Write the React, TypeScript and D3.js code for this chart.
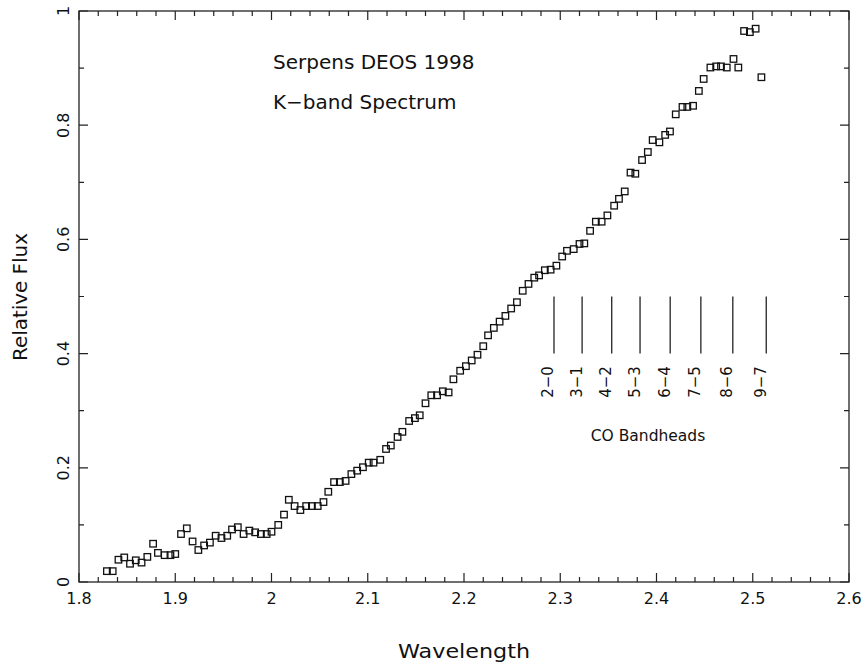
import React from 'react';
import * as d3 from 'd3';

// K-band spectrum samples (wavelength in microns, relative flux)
const wavelength = [
  1.829, 1.835, 1.841, 1.847, 1.853, 1.859, 1.865, 1.871, 1.877, 1.882,
  1.889, 1.895, 1.900, 1.906, 1.912, 1.918, 1.924, 1.930, 1.936, 1.942,
  1.948, 1.954, 1.959, 1.965, 1.971, 1.977, 1.983, 1.989, 1.995, 2.000,
  2.007, 2.013, 2.018, 2.024, 2.030, 2.036, 2.042, 2.048, 2.054, 2.059,
  2.065, 2.071, 2.077, 2.083, 2.089, 2.095, 2.101, 2.106, 2.113, 2.119,
  2.124, 2.131, 2.136, 2.143, 2.149, 2.154, 2.160, 2.166, 2.172, 2.178,
  2.184, 2.189, 2.196, 2.202, 2.208, 2.214, 2.220, 2.225, 2.231, 2.237,
  2.243, 2.249, 2.255, 2.261, 2.267, 2.273, 2.278, 2.284, 2.290, 2.296,
  2.302, 2.307, 2.314, 2.320, 2.325, 2.331, 2.337, 2.343, 2.349, 2.356,
  2.361, 2.367, 2.373, 2.378, 2.385, 2.391, 2.396, 2.403, 2.409, 2.414,
  2.420, 2.427, 2.432, 2.438, 2.444, 2.449, 2.456, 2.462, 2.467, 2.473,
  2.480, 2.485, 2.491, 2.497, 2.503, 2.509,
];

const flux = [
  0.019, 0.019, 0.039, 0.043, 0.032, 0.038, 0.034, 0.044, 0.067, 0.051,
  0.047, 0.047, 0.049, 0.084, 0.094, 0.071, 0.056, 0.064, 0.069, 0.081,
  0.077, 0.081, 0.092, 0.096, 0.084, 0.090, 0.087, 0.084, 0.084, 0.088,
  0.100, 0.118, 0.144, 0.133, 0.126, 0.133, 0.133, 0.133, 0.140, 0.158,
  0.175, 0.175, 0.177, 0.189, 0.195, 0.201, 0.209, 0.209, 0.214, 0.233,
  0.239, 0.254, 0.263, 0.282, 0.287, 0.292, 0.313, 0.327, 0.327, 0.334,
  0.332, 0.355, 0.370, 0.378, 0.388, 0.398, 0.413, 0.432, 0.445, 0.456,
  0.466, 0.479, 0.490, 0.510, 0.522, 0.533, 0.537, 0.546, 0.547, 0.554,
  0.570, 0.580, 0.583, 0.592, 0.593, 0.615, 0.631, 0.631, 0.642, 0.659,
  0.671, 0.684, 0.717, 0.715, 0.739, 0.753, 0.774, 0.770, 0.783, 0.789,
  0.819, 0.832, 0.832, 0.834, 0.860, 0.881, 0.901, 0.903, 0.903, 0.901,
  0.916, 0.901, 0.965, 0.963, 0.969, 0.884,
];

// CO first-overtone bandhead positions (microns) and their transitions
const bandheadWl = [2.2935, 2.3227, 2.3535, 2.3829, 2.4142, 2.4461, 2.4793, 2.5140];
const bandheadLabels = ['2−0', '3−1', '4−2', '5−3', '6−4', '7−5', '8−6', '9−7'];
const bandheadRange = [0.4, 0.5];

const xMajorTicks = [1.8, 1.9, 2.0, 2.1, 2.2, 2.3, 2.4, 2.5, 2.6];
const xTickLabels = ['1.8', '1.9', '2', '2.1', '2.2', '2.3', '2.4', '2.5', '2.6'];
const yMajorTicks = [0, 0.2, 0.4, 0.6, 0.8, 1];
const yTickLabels = ['0', '0.2', '0.4', '0.6', '0.8', '1'];

const titleLines = ['Serpens DEOS 1998', 'K−band Spectrum'];

const W = 863;
const H = 665;
const frame = { left: 79, right: 849, top: 11, bottom: 582 };
const FONT = "'DejaVu Sans', sans-serif";
const INK = '#111';

export default function App() {
  const x = d3.scaleLinear().domain([1.8, 2.6]).range([frame.left, frame.right]);
  const y = d3.scaleLinear().domain([0, 1]).range([frame.bottom, frame.top]);

  const xMinor = d3.range(0, 41).map((i) => 1.8 + i * 0.02).filter((v) => !xMajorTicks.some((m) => Math.abs(m - v) < 1e-6));
  const yMinor = d3.range(0, 11).map((i) => i * 0.1).filter((v) => !yMajorTicks.some((m) => Math.abs(m - v) < 1e-6));

  const majorLen = 9;
  const minorLen = 5;
  const sq = 6.5;

  const tickPath: string[] = [];
  xMajorTicks.forEach((v) => {
    const px = x(v);
    tickPath.push(`M${px},${frame.bottom}V${frame.bottom - majorLen}`);
    tickPath.push(`M${px},${frame.top}V${frame.top + majorLen}`);
  });
  xMinor.forEach((v) => {
    const px = x(v);
    tickPath.push(`M${px},${frame.bottom}V${frame.bottom - minorLen}`);
    tickPath.push(`M${px},${frame.top}V${frame.top + minorLen}`);
  });
  yMajorTicks.forEach((v) => {
    const py = y(v);
    tickPath.push(`M${frame.left},${py}H${frame.left + majorLen}`);
    tickPath.push(`M${frame.right},${py}H${frame.right - majorLen}`);
  });
  yMinor.forEach((v) => {
    const py = y(v);
    tickPath.push(`M${frame.left},${py}H${frame.left + minorLen}`);
    tickPath.push(`M${frame.right},${py}H${frame.right - minorLen}`);
  });

  return (
    <svg
      width={W}
      height={H}
      viewBox={`0 0 ${W} ${H}`}
      style={{ position: 'absolute', left: 0, top: 0, display: 'block', background: '#fff' }}
      fontFamily={FONT}
    >
      <rect x={0} y={0} width={W} height={H} fill="#fff" />

      {/* plot frame and ticks */}
      <rect
        x={frame.left}
        y={frame.top}
        width={frame.right - frame.left}
        height={frame.bottom - frame.top}
        fill="none"
        stroke="#222"
        strokeWidth={1.3}
      />
      <path d={tickPath.join('')} stroke="#222" strokeWidth={1.2} fill="none" />

      {/* x tick labels */}
      {xMajorTicks.map((v, i) => (
        <text key={`xt${i}`} x={x(v)} y={604} textAnchor="middle" fontSize={16} fill={INK}>
          {xTickLabels[i]}
        </text>
      ))}

      {/* y tick labels, rotated */}
      {yMajorTicks.map((v, i) => (
        <text
          key={`yt${i}`}
          transform={`translate(69,${y(v)}) rotate(-90)`}
          textAnchor="middle"
          fontSize={16}
          fill={INK}
        >
          {yTickLabels[i]}
        </text>
      ))}

      {/* axis titles */}
      <text x={464} y={658} textAnchor="middle" fontSize={19} fill={INK} textLength={132} lengthAdjust="spacingAndGlyphs">
        Wavelength
      </text>
      <text
        transform={`translate(27,297) rotate(-90)`}
        textAnchor="middle"
        fontSize={19}
        fill={INK}
        textLength={128}
        lengthAdjust="spacingAndGlyphs"
      >
        Relative Flux
      </text>

      {/* figure title */}
      {titleLines.map((t, i) => (
        <text key={`tl${i}`} x={273} y={69 + i * 40} fontSize={20} fill={INK}>
          {t}
        </text>
      ))}

      {/* CO bandhead markers */}
      {bandheadWl.map((w, i) => (
        <g key={`bh${i}`}>
          <line x1={x(w)} x2={x(w)} y1={y(bandheadRange[0])} y2={y(bandheadRange[1])} stroke="#111" strokeWidth={1.2} />
          <text
            transform={`translate(${x(w) - 0.5},382) rotate(-90)`}
            textAnchor="middle"
            fontSize={15}
            fill={INK}
          >
            {bandheadLabels[i]}
          </text>
        </g>
      ))}
      <text x={648} y={441} textAnchor="middle" fontSize={15.5} fill={INK}>
        CO Bandheads
      </text>

      {/* spectrum points */}
      {wavelength.map((w, i) => (
        <rect
          key={`p${i}`}
          x={x(w) - sq / 2}
          y={y(flux[i]) - sq / 2}
          width={sq}
          height={sq}
          fill="none"
          stroke="#111"
          strokeWidth={1.3}
        />
      ))}
    </svg>
  );
}
